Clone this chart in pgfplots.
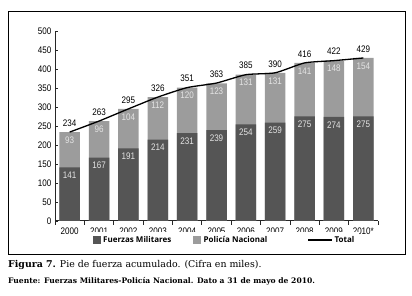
\documentclass[border=0pt]{standalone}
\usepackage{fontspec}
\setmainfont{DejaVu Serif}
\newfontfamily\tickfont[FakeStretch=0.85]{Liberation Sans}
\newfontfamily\legfont{Open Sans}
\usepackage{pgfplots}
\pgfplotsset{compat=1.18}
\definecolor{fm}{HTML}{555555}
\definecolor{pn}{HTML}{9C9C9C}
\definecolor{lab}{HTML}{E4E4E4}
\begin{document}
\begin{tikzpicture}
\useasboundingbox (0pt,0pt) rectangle (412pt,296pt);
\draw[line width=0.8pt] (8pt,42pt) rectangle (405pt,285pt);
\begin{axis}[
  at={(55pt,75pt)}, anchor=south west,
  scale only axis, width=323pt, height=190pt,
  xmin=-0.5, xmax=10.5, ymin=0, ymax=500,
  axis x line*=bottom, axis y line*=left,
  axis line style={line width=1pt, color=black!85},
  ytick={0,50,...,500},
  xtick={0,...,10},
  xticklabels={2000,2001,2002,2003,2004,2005,2006,2007,2008,2009,2010*},
  major x tick style={draw=none},
  minor xtick={-0.5,0.5,...,10.5},
  minor x tick style={line width=0.8pt, black!85},
  major y tick style={line width=0.8pt, black!85},
  tick align=inside,
  major tick length=3pt, minor tick length=4pt,
  /pgf/number format/assume math mode=true,
  tick label style={font=\tickfont\fontsize{9.5}{10}\selectfont, black},
  ybar, bar width=20.5pt, bar shift=0pt,
  legend style={at={(0.525,-0.1)}, anchor=center, legend columns=3, draw=none,
    font=\legfont\bfseries\fontsize{8}{10}\selectfont,
    /tikz/every even column/.append style={column sep=0pt}},
  legend cell align=left,
]
\addlegendimage{area legend, legend image code/.code={\fill[fm] (0pt,-3.5pt) rectangle (7pt,3.5pt);}}
\addlegendentry{\hspace*{1pt}Fuerzas Militares\hspace*{20pt}}
\addlegendimage{area legend, legend image code/.code={\fill[pn] (0pt,-3.5pt) rectangle (7pt,3.5pt);}}
\addlegendentry{\hspace*{1pt}Policía Nacional\hspace*{38pt}}
\addlegendimage{legend image code/.code={\draw[line width=1.2pt, black] (-8pt,0pt) -- (16pt,0pt);}}
\addlegendentry{Total}

% Policia Nacional (drawn as full-height light bar, label = PN value)
\addplot[fill=pn, draw=none, forget plot,
  nodes near coords, point meta=explicit symbolic,
  nodes near coords align={center},
  every node near coord/.append style={yshift=-8pt, color=lab, font=\tickfont\fontsize{9.5}{10}\selectfont}]
coordinates {(0,234)[93] (1,263)[96] (2,295)[104] (3,326)[112] (4,351)[120] (5,362)[123]
  (6,385)[131] (7,390)[131] (8,416)[141] (9,422)[148] (10,429)[154]};
% Fuerzas Militares
\addplot[fill=fm, draw=none, forget plot,
  nodes near coords, point meta=explicit symbolic,
  nodes near coords align={center},
  every node near coord/.append style={yshift=-8pt, color=lab, font=\tickfont\fontsize{9.5}{10}\selectfont}]
coordinates {(0,141)[141] (1,167)[167] (2,191)[191] (3,214)[214] (4,231)[231] (5,239)[239]
  (6,254)[254] (7,259)[259] (8,275)[275] (9,274)[274] (10,275)[275]};
% Total
\addplot[smooth, tension=0.35, line width=1.3pt, black, forget plot,
  nodes near coords, point meta=explicit symbolic,
  nodes near coords align={center},
  every node near coord/.append style={yshift=9pt, color=black, font=\tickfont\fontsize{9.5}{10}\selectfont}]
coordinates {(0,234)[234] (1,263)[263] (2,295)[295] (3,326)[326] (4,351)[351] (5,363)[363]
  (6,385)[385] (7,390)[390] (8,416)[416] (9,422)[422] (10,429)[429]};
\end{axis}
\node[anchor=base west, inner sep=0pt] at (8pt,28pt) {\fontsize{9.4}{11}\selectfont\textbf{Figura 7.} Pie de fuerza acumulado. (Cifra en miles).};
\node[anchor=base west, inner sep=0pt] at (8pt,12pt) {\fontsize{7.6}{9}\selectfont\bfseries Fuente: Fuerzas Militares-Policía Nacional. Dato a 31 de mayo de 2010.};
\end{tikzpicture}
\end{document}
